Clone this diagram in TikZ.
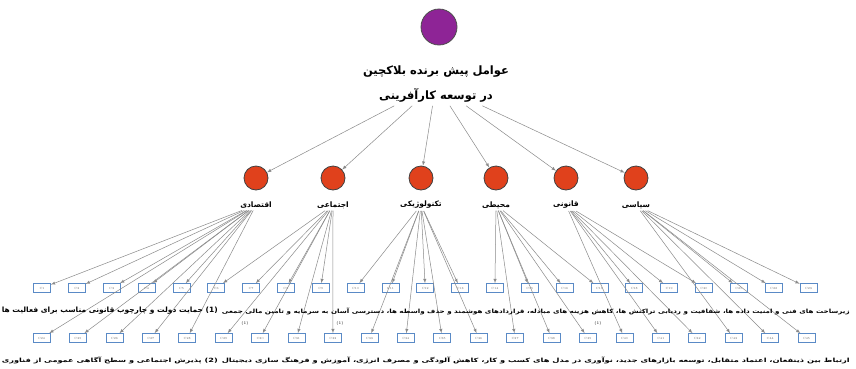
\documentclass[tikz,border=0pt]{standalone}
\usepackage{fontspec}
\usepackage{graphicx}
\newfontfamily\fa[Script=Arabic]{DejaVu Sans}
\TeXXeTstate=1
\usetikzlibrary{positioning}

\definecolor{rootpurple}{HTML}{8E2496}
\definecolor{catred}{HTML}{E0411C}
\definecolor{wiregray}{HTML}{8A8A8A}
\definecolor{boxblue}{HTML}{5A8AC6}

\tikzset{
  rootdot/.style={circle, draw=black!70, fill=rootpurple, minimum size=36pt, inner sep=0pt, line width=0.8pt},
  catdot/.style={circle, draw=black!75, fill=catred, minimum size=24pt, inner sep=0pt, line width=0.8pt},
  catlabel/.style={font=\fa\bfseries\fontsize{7.5}{9}\selectfont, inner sep=2pt},
  code/.style={draw=boxblue, fill=white, line width=0.6pt, minimum width=17pt, minimum height=9pt, inner sep=0pt, font=\fontsize{3}{3}\selectfont, text=black!60},
  wire/.style={->, draw=wiregray, line width=0.5pt},
  textline/.style={font=\fa\bfseries, inner sep=0pt, anchor=east},
  edgetag/.style={font=\fontsize{4}{4}\selectfont, inner sep=0pt}
}

\begin{document}
\begin{tikzpicture}[x=1pt,y=-1pt,>=latex]
\useasboundingbox[fill=white] (0,0) rectangle (856,368);

% Root
\node[rootdot] (root) at (439,27) {};
\node[font=\fa\bfseries\fontsize{11.5}{25}\selectfont, align=center] (title) at (436,84)
  {\beginR عوامل پیش برنده بلاکچین\endR\\\beginR در توسعه کارآفرینی\endR};

% Categories
\foreach \n/\x/\txt in {1/256/اقتصادی, 2/333/اجتماعی, 3/421/تکنولوژیکی, 4/496/محیطی, 5/566/قانونی, 6/636/سیاسی} {
  \node[catdot] (c\n) at (\x,178) {};
  \node[catlabel] (l\n) at (\x,205) {\beginR\txt\endR};
  \draw[wire] (title) -- (c\n);
}

% Codes, first row
\foreach \i [evaluate=\i as \k using int(\i+1)] in {0,...,22} {
  \node[code] (a\i) at ({42+34.84*\i},288) {C\k};
}

% Codes, second row
\foreach \j [evaluate=\j as \k using int(\j+24)] in {0,...,21} {
  \node[code] (b\j) at ({41.5+36.43*\j},338) {C\k};
}

% Wires
\foreach \n/\ra/\rb in {1/{0,...,4}/{0,...,4}, 2/{5,...,8}/{5,...,8}, 3/{9,...,12}/{9,...,12},
                        4/{13,...,16}/{13,14,15}, 5/{17,18,19}/{16,17,18}, 6/{20,21,22}/{19,20,21}} {
  \foreach \i in \ra {
    \draw[wire] (l\n) -- (a\i);
  }
  \foreach \j in \rb {
    \draw[wire] (l\n) -- (b\j);
  }
}

% Tags
\node[edgetag] (e1) at (245,323) {(1)};
\node[edgetag] (e2) at (340,323) {(1)};
\node[edgetag] (e3) at (598,323) {(1)};

% Text lines
\node[textline] (t1) at (850,311) {\resizebox{628pt}{5.5pt}{\beginR زیرساخت های فنی و امنیت داده ها، شفافیت و ردیابی تراکنش ها، کاهش هزینه های مبادله، قراردادهای هوشمند و حذف واسطه ها، دسترسی آسان به سرمایه و تامین مالی جمعی\endR}};
\node[textline] (t2) at (218,311) {\resizebox{216pt}{5.5pt}{\beginR\beginL(1)\endL{} حمایت دولت و چارچوب قانونی مناسب برای فعالیت ها\endR}};
\node[textline] (t3) at (850,360) {\resizebox{628pt}{5.5pt}{\beginR ارتباط بین ذینفعان، اعتماد متقابل، توسعه بازارهای جدید، نوآوری در مدل های کسب و کار، کاهش آلودگی و مصرف انرژی، آموزش و فرهنگ سازی دیجیتال\endR}};
\node[textline] (t4) at (218,360) {\resizebox{216pt}{5.5pt}{\beginR\beginL(2)\endL{} پذیرش اجتماعی و سطح آگاهی عمومی از فناوری\endR}};

\end{tikzpicture}
\end{document}
